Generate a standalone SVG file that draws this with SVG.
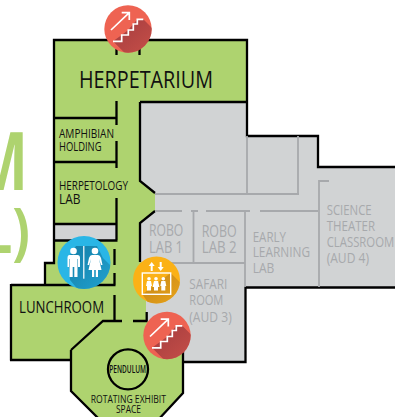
<svg xmlns="http://www.w3.org/2000/svg" width="395" height="417" viewBox="0 0 395 417">
<defs>
<style>
.w{fill:none;stroke:#000;stroke-width:2.3}
.g{fill:none;stroke:#a7a9ac;stroke-width:1.8}
text{font-family:"Open Sans","Noto Sans","Liberation Sans",sans-serif}
.d{fill:#111}
.l{fill:#a7a9ac}
.t{fill:#aed36f;font-weight:700}
.ic{fill:none;stroke:#fff;stroke-width:1.7}
.ib{fill:none;stroke:#fff;stroke-width:1.4}
.wh{fill:#fff}
</style>
<linearGradient id="shR" x1="0.1" y1="0.1" x2="0.9" y2="0.9"><stop offset="0" stop-color="#a83f40"/><stop offset="1" stop-color="#a83f40" stop-opacity=".35"/></linearGradient>
<linearGradient id="shB" x1="0.1" y1="0.1" x2="0.9" y2="0.9"><stop offset="0" stop-color="#1583ad"/><stop offset="1" stop-color="#1583ad" stop-opacity=".2"/></linearGradient>
<linearGradient id="shY" x1="0.1" y1="0.1" x2="0.9" y2="0.9"><stop offset="0" stop-color="#c98a1a"/><stop offset="1" stop-color="#c98a1a" stop-opacity=".2"/></linearGradient>
<clipPath id="c1"><circle cx="0" cy="0" r="23.7"/></clipPath>
<clipPath id="c2"><circle cx="84" cy="262.5" r="26.5"/></clipPath>
<clipPath id="c3"><circle cx="156.5" cy="280" r="23.5"/></clipPath>
<g id="stairs">
<circle r="23.7" fill="#ee6352"/>
<path clip-path="url(#c1)" d="M-15 12.3L-6.3 6L0.3 1L5.3 -5L9.3 -9.7L15.3 -9.7L45 20L20 45H18Z" fill="url(#shR)"/>
<path class="ic" d="M-15 12.3H-6.3V6H0.3V1H5.3V-5H9.3V-9.7H15.3"/>
<path class="ic" d="M-17 1L1.3 -16.3M-6.3 -16.3H1.3V-9"/>
</g>
</defs>
<g id="title-fragment">
<text class="t" x="-28" y="190" font-size="80" textLength="56" lengthAdjust="spacingAndGlyphs">M</text>
<text class="t" x="-17" y="253" font-size="62" textLength="47" lengthAdjust="spacingAndGlyphs">L)</text>
</g>
<g id="floor">
<path d="M54 40H247V102H140V181L155 193V211L140 223V262H146V321H150L183 350V392L155 422H103L71 391V360H11V285H45V263H54Z" fill="#aed36f"/>
<path d="M140 102H247V136H318V167H395V287.5H245.5V362H183V350L150 321H146V262H140V223L155 211V193L140 181Z" fill="#d1d3d4"/>
<rect x="54" y="224" width="62.5" height="16.5" fill="#d1d3d4"/>
</g>
<g id="connectors">
<path class="w" d="M45 285V263H54V40H247V136H318V167H395M395 287.5H245.5V362H183M183 350V393L158 420M71 350V391L100 420M71 350L103 321H122M133 321H147.5M146.7 312V321M114.5 295V321M114.5 249V265M114.5 273V285M11 285H115.500M11 284V360.500M10 360H71"/>
<path class="w" d="M54 118H117.500M54 162H117.500M54 224H117.500M54 240.500H117.500M116.500 49V55M139.500 49V55M116.500 101V125M116.500 141V168M116.500 198V240M140 102H247M140 102V181L155 193M155 211L140 223V262"/>
<path class="g" d="M247 136V194M298 136V194M155 194H299M155 211H182M191 211H198M206 211H250M260 211H318M319 287V181H329M245 211V287M193.500 211V263M170 263H245"/>
</g>
<g id="room-herpetarium"><text class="d" x="79" y="88" font-size="24.500" textLength="134" lengthAdjust="spacingAndGlyphs">HERPETARIUM</text></g>
<g id="room-amphibian"><text class="d" font-size="11.700" x="59" y="138" textLength="55" lengthAdjust="spacingAndGlyphs">AMPHIBIAN</text><text class="d" font-size="11.700" x="59" y="150.700" textLength="42.500" lengthAdjust="spacingAndGlyphs">HOLDING</text></g>
<g id="room-herpetology"><text class="d" font-size="13.500" x="59" y="190" textLength="69" lengthAdjust="spacingAndGlyphs">HERPETOLOGY</text><text class="d" font-size="14.500" x="59" y="203.700" textLength="21.500" lengthAdjust="spacingAndGlyphs">LAB</text></g>
<g id="room-lunchroom"><text class="d" font-size="17" x="19" y="313" textLength="85" lengthAdjust="spacingAndGlyphs">LUNCHROOM</text></g>
<g id="room-pendulum"><circle class="w" cx="128" cy="369.300" r="20"/><text class="d" font-size="10.500" font-weight="600" x="109.300" y="372.700" textLength="36.700" lengthAdjust="spacingAndGlyphs">PENDULUM</text></g>
<g id="room-rotating"><text class="d" font-size="11" x="90.700" y="402.700" textLength="75.300" lengthAdjust="spacingAndGlyphs">ROTATING EXHIBIT</text><text class="d" font-size="11" x="116" y="413.300" textLength="25" lengthAdjust="spacingAndGlyphs">SPACE</text></g>
<g id="room-robo1"><text class="l" font-size="15.400" x="149" y="236" textLength="34.300" lengthAdjust="spacingAndGlyphs">ROBO</text><text class="l" font-size="15.400" x="149" y="252.700" textLength="34" lengthAdjust="spacingAndGlyphs">LAB 1</text></g>
<g id="room-robo2"><text class="l" font-size="15.400" x="201.700" y="236.700" textLength="35" lengthAdjust="spacingAndGlyphs">ROBO</text><text class="l" font-size="15.400" x="201.700" y="253" textLength="35" lengthAdjust="spacingAndGlyphs">LAB 2</text></g>
<g id="room-early"><text class="l" font-size="15" x="252.700" y="241.700" textLength="33.300" lengthAdjust="spacingAndGlyphs">EARLY</text><text class="l" font-size="15" x="252.700" y="257" textLength="57.300" lengthAdjust="spacingAndGlyphs">LEARNING</text><text class="l" font-size="15" x="252.700" y="273.300" textLength="21.600" lengthAdjust="spacingAndGlyphs">LAB</text></g>
<g id="room-science"><text class="l" font-size="15" x="326.700" y="215" textLength="45" lengthAdjust="spacingAndGlyphs">SCIENCE</text><text class="l" font-size="15" x="326.700" y="231" textLength="48.300" lengthAdjust="spacingAndGlyphs">THEATER</text><text class="l" font-size="15" x="326.700" y="246.700" textLength="67.500" lengthAdjust="spacingAndGlyphs">CLASSROOM</text><text class="l" font-size="15" x="326.700" y="263" textLength="42.300" lengthAdjust="spacingAndGlyphs">(AUD 4)</text></g>
<g id="room-safari"><text class="l" font-size="15" x="189.300" y="289" textLength="38" lengthAdjust="spacingAndGlyphs">SAFARI</text><text class="l" font-size="15" x="189.300" y="305" textLength="34" lengthAdjust="spacingAndGlyphs">ROOM</text><text class="l" font-size="15" x="189.300" y="321.700" textLength="42.400" lengthAdjust="spacingAndGlyphs">(AUD 3)</text></g>
<g id="icon-stairs-top"><use href="#stairs" x="128" y="29"/></g>
<g id="icon-stairs-bottom"><use href="#stairs" x="167" y="335.500"/></g>
<g id="icon-restroom">
<circle cx="84" cy="262.500" r="26.500" fill="#29b6e6"/>
<path clip-path="url(#c2)" d="M68 258L76 246L86 246L97 246L103 258L125 280L95 310L70 280Z" fill="url(#shB)"/>
<circle class="wh" cx="73.500" cy="251" r="3.300"/>
<path class="wh" d="M69.500 255H77.500Q80 255 80 258V267H78V259H77.500V277H74.300V267H72.700V277H69.500V259H69V267H67.500V258Q67.500 255 69.500 255Z"/>
<rect class="wh" x="83.200" y="246" width="1.200" height="32.700"/>
<circle class="wh" cx="95" cy="251" r="3.300"/>
<path class="wh" d="M92 255H98Q100 255 101 258L102.500 265H101L99 259L101.500 270H98V277H95.800V270H94.200V277H92V270H88.500L91 259L89 265H87.500L89 258Q90 255 92 255Z"/>
</g>
<g id="icon-elevator">
<circle cx="156.500" cy="280" r="23.500" fill="#fbb116"/>
<path clip-path="url(#c3)" d="M142.300 294.300L170.700 273L190 292L165 320H160Z" fill="url(#shY)"/>
<path class="wh" d="M151.700 262L154.700 266H152.700V271H150.700V266H148.700ZM160.700 271L157.700 267H159.700V262H161.700V267H163.700Z"/>
<rect class="ib" x="142.300" y="273" width="28.400" height="21.300"/>
<g class="wh">
<circle cx="149" cy="278.700" r="1.800"/><path d="M147 281H151L152 286H151V290.500H147V286H146Z"/>
<circle cx="156" cy="278.700" r="1.800"/><path d="M154 281H158L159.500 287H158V290.500H154V287H152.500Z"/>
<circle cx="163.300" cy="278.700" r="1.800"/><path d="M161.300 281H165.300L166.300 286H165.300V290.500H161.300V286H160.300Z"/>
</g>
</g>
</svg>
